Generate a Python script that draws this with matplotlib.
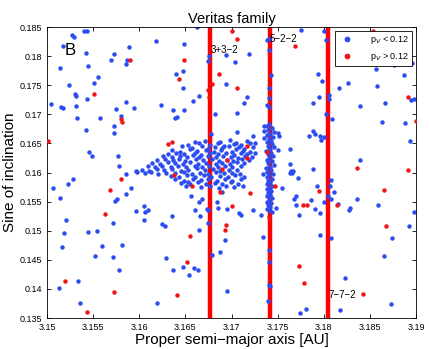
import matplotlib
matplotlib.use('Agg')
import matplotlib.pyplot as plt
import numpy as np

plt.rcParams['font.family'] = ['Liberation Sans', 'DejaVu Sans']

# scattered low-albedo members (a, sin i)
blue_scatter = [
    (3.1504, 0.1717), (3.1506, 0.1574), (3.1514, 0.1780), (3.1515, 0.1713), (3.1517, 0.1710),
    (3.1517, 0.1817), (3.1514, 0.1556), (3.1513, 0.1401), (3.1516, 0.1472), (3.1518, 0.1496),
    (3.1521, 0.1518), (3.1523, 0.1581), (3.1524, 0.1751), (3.1527, 0.1836), (3.1529, 0.1832),
    (3.1530, 0.1735), (3.1531, 0.1732), (3.1531, 0.1715), (3.1528, 0.1589), (3.1533, 0.1693),
    (3.1534, 0.1414), (3.1536, 0.1376), (3.1540, 0.1843), (3.1543, 0.1843), (3.1542, 0.1805),
    (3.1544, 0.1783), (3.1543, 0.1726), (3.1542, 0.1673), (3.1544, 0.1497), (3.1546, 0.1636),
    (3.1549, 0.1628), (3.1551, 0.1753), (3.1555, 0.1764), (3.1554, 0.1500), (3.1552, 0.1456),
    (3.1557, 0.1694), (3.1560, 0.1473), (3.1569, 0.1794), (3.1573, 0.1804), (3.1575, 0.1709),
    (3.1573, 0.1680), (3.1573, 0.1668), (3.1577, 0.1629), (3.1578, 0.1612), (3.1571, 0.1454),
    (3.1572, 0.1513), (3.1574, 0.1551), (3.1576, 0.1554), (3.1580, 0.1697), (3.1581, 0.1476),
    (3.1578, 0.1433), (3.1586, 0.1786), (3.1587, 0.1794), (3.1586, 0.1722), (3.1589, 0.1816),
    (3.1586, 0.1563), (3.1591, 0.1573), (3.1586, 0.1598), (3.1594, 0.1710), (3.1597, 0.1534),
    (3.1597, 0.1602), (3.1605, 0.1542), (3.1606, 0.1532), (3.1610, 0.1535), (3.1605, 0.1519),
    (3.1618, 0.1826), (3.1624, 0.1716), (3.1619, 0.1376), (3.1625, 0.1511), (3.1628, 0.1508),
    (3.1629, 0.1453), (3.1636, 0.1526), (3.1637, 0.1432), (3.1637, 0.1708), (3.1639, 0.1694),
    (3.1641, 0.1696), (3.1640, 0.1770), (3.1647, 0.1774), (3.1647, 0.1745), (3.1648, 0.1820),
    (3.1649, 0.1708), (3.1647, 0.1437), (3.1654, 0.1424), (3.1659, 0.1436), (3.1664, 0.1433),
    (3.1653, 0.1584), (3.1656, 0.1559), (3.1660, 0.1535), (3.1665, 0.1550), (3.1663, 0.1850),
    (3.1665, 0.1502), (3.1666, 0.1525), (3.1658, 0.1723), (3.1665, 0.1731), (3.1668, 0.1554),
    (3.1674, 0.1792), (3.1676, 0.1800), (3.1678, 0.1667), (3.1675, 0.1514), (3.1673, 0.1538),
    (3.1675, 0.1535), (3.1679, 0.1458), (3.1682, 0.1701), (3.1684, 0.1549), (3.1685, 0.1539),
    (3.1688, 0.1463), (3.1690, 0.1566), (3.1693, 0.1484), (3.1694, 0.1752), (3.1694, 0.1802),
    (3.1695, 0.1397), (3.1695, 0.1537), (3.1704, 0.1790), (3.1706, 0.1703), (3.1706, 0.1669),
    (3.1708, 0.1530), (3.1710, 0.1527), (3.1713, 0.1720), (3.1717, 0.1730), (3.1719, 0.1804),
    (3.1723, 0.1662), (3.1723, 0.1535), (3.1732, 0.1527), (3.1734, 0.1489), (3.1735, 0.1680),
    (3.1735, 0.1671), (3.1739, 0.1828), (3.1741, 0.1830), (3.1741, 0.1811), (3.1743, 0.1767),
    (3.1741, 0.1745), (3.1741, 0.1728), (3.1739, 0.1716), (3.1741, 0.1712), (3.1741, 0.1466),
    (3.1741, 0.1446), (3.1741, 0.1407), (3.1742, 0.1405), (3.1740, 0.1380), (3.1750, 0.1639),
    (3.1755, 0.1573), (3.1748, 0.1539), (3.1763, 0.1640), (3.1763, 0.1614), (3.1765, 0.1603),
    (3.1767, 0.1603), (3.1763, 0.1599), (3.1766, 0.1599), (3.1772, 0.1591), (3.1770, 0.1559),
    (3.1768, 0.1554), (3.1770, 0.1544), (3.1773, 0.1527), (3.1775, 0.1845), (3.1774, 0.1358),
    (3.1781, 0.1365), (3.1786, 0.1552), (3.1788, 0.1606), (3.1788, 0.1720), (3.1791, 0.1537),
    (3.1796, 0.1531), (3.1796, 0.1493), (3.1794, 0.1769), (3.1795, 0.1729), (3.1798, 0.1757),
    (3.1800, 0.1844), (3.1802, 0.1827), (3.1802, 0.1701), (3.1788, 0.1672), (3.1790, 0.1666),
    (3.1784, 0.1663), (3.1796, 0.1662), (3.1797, 0.1656), (3.1800, 0.1661), (3.1793, 0.1576),
    (3.1800, 0.1550), (3.1806, 0.1734), (3.1806, 0.1727), (3.1809, 0.1692), (3.1807, 0.1576),
    (3.1808, 0.1587), (3.1805, 0.1559), (3.1808, 0.1555), (3.1808, 0.1487), (3.1811, 0.1566),
    (3.1815, 0.1546), (3.1816, 0.1745), (3.1818, 0.1363), (3.1823, 0.1419), (3.1826, 0.1754),
    (3.1827, 0.1536), (3.1828, 0.1539), (3.1836, 0.1555), (3.1839, 0.1622), (3.1839, 0.1714),
    (3.1857, 0.1777), (3.1858, 0.1749), (3.1859, 0.1545), (3.1863, 0.1686), (3.1865, 0.1456),
    (3.1866, 0.1719), (3.1873, 0.1374), (3.1874, 0.1488), (3.1876, 0.1784), (3.1887, 0.1768),
    (3.1888, 0.1685), (3.1891, 0.1789), (3.1896, 0.1789), (3.1892, 0.1508), (3.1894, 0.1654),
    (3.1895, 0.1725), (3.1898, 0.1726), (3.1898, 0.1532),
]

# dense core of the family
core_pts = [
    (3.1660, 0.1653), (3.1671, 0.1655), (3.1687, 0.1652), (3.1698, 0.1656), (3.1705, 0.1651),
    (3.1717, 0.1654), (3.1725, 0.1650),
    (3.1653, 0.1648), (3.1665, 0.1651), (3.1677, 0.1647), (3.1685, 0.1650), (3.1692, 0.1646),
    (3.1703, 0.1649), (3.1710, 0.1647), (3.1720, 0.1651),
    (3.1646, 0.1645), (3.1657, 0.1642), (3.1668, 0.1646), (3.1674, 0.1641), (3.1682, 0.1644),
    (3.1690, 0.1642), (3.1697, 0.1645), (3.1708, 0.1643), (3.1714, 0.1640), (3.1723, 0.1644),
    (3.1636, 0.1639), (3.1644, 0.1636), (3.1655, 0.1640), (3.1663, 0.1637), (3.1672, 0.1639),
    (3.1681, 0.1635), (3.1689, 0.1638), (3.1700, 0.1636), (3.1705, 0.1640), (3.1712, 0.1637),
    (3.1720, 0.1636),
    (3.1631, 0.1632), (3.1640, 0.1634), (3.1649, 0.1631), (3.1660, 0.1634), (3.1667, 0.1630),
    (3.1677, 0.1633), (3.1685, 0.1631), (3.1694, 0.1634), (3.1703, 0.1630), (3.1710, 0.1633),
    (3.1717, 0.1631), (3.1726, 0.1633),
    (3.1626, 0.1628), (3.1635, 0.1626), (3.1644, 0.1629), (3.1652, 0.1627), (3.1658, 0.1630),
    (3.1665, 0.1626), (3.1674, 0.1628), (3.1683, 0.1626), (3.1691, 0.1629), (3.1699, 0.1627),
    (3.1707, 0.1625), (3.1715, 0.1628), (3.1722, 0.1627),
    (3.1619, 0.1622), (3.1628, 0.1624), (3.1637, 0.1621), (3.1643, 0.1623), (3.1650, 0.1620),
    (3.1661, 0.1623), (3.1669, 0.1621), (3.1679, 0.1624), (3.1686, 0.1620), (3.1695, 0.1622),
    (3.1702, 0.1620), (3.1711, 0.1623), (3.1719, 0.1621),
    (3.1614, 0.1617), (3.1622, 0.1615), (3.1631, 0.1618), (3.1639, 0.1616), (3.1647, 0.1614),
    (3.1655, 0.1618), (3.1664, 0.1615), (3.1672, 0.1617), (3.1683, 0.1614), (3.1690, 0.1617),
    (3.1698, 0.1615), (3.1706, 0.1618), (3.1714, 0.1616),
    (3.1609, 0.1611), (3.1617, 0.1609), (3.1625, 0.1612), (3.1634, 0.1610), (3.1642, 0.1612),
    (3.1651, 0.1609), (3.1660, 0.1611), (3.1668, 0.1609), (3.1676, 0.1612), (3.1685, 0.1610),
    (3.1693, 0.1612), (3.1701, 0.1609), (3.1710, 0.1611),
    (3.1603, 0.1605), (3.1611, 0.1603), (3.1619, 0.1606), (3.1627, 0.1604), (3.1636, 0.1606),
    (3.1645, 0.1603), (3.1653, 0.1605), (3.1663, 0.1607), (3.1671, 0.1604), (3.1680, 0.1606),
    (3.1688, 0.1603), (3.1697, 0.1605), (3.1706, 0.1604),
    (3.1598, 0.1601), (3.1606, 0.1599), (3.1613, 0.1601), (3.1620, 0.1598), (3.1629, 0.1600),
    (3.1639, 0.1599), (3.1648, 0.1601), (3.1657, 0.1598), (3.1666, 0.1600), (3.1675, 0.1598),
    (3.1683, 0.1601), (3.1692, 0.1599), (3.1701, 0.1600), (3.1709, 0.1598),
    (3.1634, 0.1594), (3.1643, 0.1592), (3.1652, 0.1595), (3.1660, 0.1593), (3.1670, 0.1595),
    (3.1678, 0.1592), (3.1687, 0.1594), (3.1696, 0.1592), (3.1704, 0.1595), (3.1713, 0.1593),
    (3.1639, 0.1588), (3.1648, 0.1586), (3.1658, 0.1589), (3.1667, 0.1587), (3.1675, 0.1589),
    (3.1684, 0.1586), (3.1693, 0.1588), (3.1701, 0.1586), (3.1710, 0.1589),
    (3.1645, 0.1582), (3.1655, 0.1581), (3.1664, 0.1583), (3.1672, 0.1580), (3.1682, 0.1582),
    (3.1690, 0.1580), (3.1699, 0.1583), (3.1707, 0.1581),
    (3.1651, 0.1577), (3.1667, 0.1575), (3.1677, 0.1577), (3.1686, 0.1574), (3.1694, 0.1576),
    (3.1703, 0.1575), (3.1712, 0.1577),
]

# members stacked along the 5-2-2 resonance
column_522 = [
    (3.1741, 0.1684), (3.1738, 0.1680), (3.1744, 0.1677), (3.1740, 0.1673), (3.1746, 0.1670),
    (3.1742, 0.1667), (3.1739, 0.1664), (3.1745, 0.1661), (3.1741, 0.1658), (3.1743, 0.1655),
    (3.1738, 0.1652), (3.1744, 0.1649), (3.1740, 0.1646), (3.1746, 0.1643), (3.1742, 0.1640),
    (3.1737, 0.1637), (3.1743, 0.1634), (3.1740, 0.1631), (3.1745, 0.1628), (3.1741, 0.1625),
    (3.1738, 0.1622), (3.1744, 0.1619), (3.1740, 0.1616), (3.1746, 0.1613), (3.1742, 0.1610),
    (3.1737, 0.1607), (3.1743, 0.1604), (3.1739, 0.1601), (3.1745, 0.1598), (3.1741, 0.1595),
    (3.1738, 0.1592), (3.1744, 0.1589), (3.1740, 0.1586), (3.1742, 0.1583), (3.1739, 0.1580),
    (3.1744, 0.1577), (3.1741, 0.1574), (3.1738, 0.1571), (3.1743, 0.1568), (3.1740, 0.1565),
    (3.1742, 0.1562), (3.1739, 0.1559), (3.1744, 0.1556), (3.1741, 0.1553), (3.1738, 0.1550),
    (3.1743, 0.1547), (3.1740, 0.1544), (3.1742, 0.1541), (3.1739, 0.1538), (3.1741, 0.1535),
    (3.1744, 0.1532), (3.1750, 0.1668), (3.1751, 0.1662), (3.1735, 0.1660), (3.1734, 0.1598),
]

# high-albedo interlopers
red_pts = [
    (3.1501, 0.1655), (3.1551, 0.1735), (3.1590, 0.1793), (3.1580, 0.1692), (3.1581, 0.1687),
    (3.1580, 0.1589), (3.1568, 0.1570), (3.1563, 0.1528), (3.1573, 0.1394), (3.1520, 0.1414),
    (3.1543, 0.1360), (3.1631, 0.1649), (3.1636, 0.1653), (3.1649, 0.1793), (3.1643, 0.1760),
    (3.1657, 0.1577), (3.1655, 0.1491), (3.1652, 0.1446), (3.1641, 0.1389), (3.1638, 0.1596),
    (3.1675, 0.1741), (3.1679, 0.1752), (3.1676, 0.1730), (3.1686, 0.1769), (3.1690, 0.1606),
    (3.1687, 0.1566), (3.1700, 0.1844), (3.1706, 0.1829), (3.1706, 0.1746), (3.1700, 0.1542),
    (3.1694, 0.1510), (3.1693, 0.1502), (3.1695, 0.1622), (3.1717, 0.1645), (3.1717, 0.1625),
    (3.1720, 0.1565), (3.1747, 0.1577), (3.1769, 0.1817), (3.1773, 0.1440), (3.1779, 0.1410),
    (3.1777, 0.1544), (3.1782, 0.1544), (3.1795, 0.1569), (3.1814, 0.1545), (3.1843, 0.1391),
    (3.1836, 0.1607), (3.1853, 0.1843), (3.1865, 0.1570), (3.1868, 0.1508), (3.1891, 0.1730),
    (3.1900, 0.1689), (3.1891, 0.1605), (3.1739, 0.1636), (3.1741, 0.1524),
]

res_a = [3.16765, 3.17412, 3.18049]
res_names = ['3+3\u22122', '5\u22122\u22122', '7\u22127\u22122']
res_label_y = [0.1810, 0.1830, 0.1390]

xticks = [3.15, 3.155, 3.16, 3.165, 3.17, 3.175, 3.18, 3.185, 3.19]
yticks = [0.135, 0.14, 0.145, 0.15, 0.155, 0.16, 0.165, 0.17, 0.175, 0.18, 0.185]

blue = '#2B4CF0'
red = '#F01414'

blue_all = np.array(blue_scatter + core_pts + column_522)
red_all = np.array(red_pts)

fig = plt.figure(figsize=(4.29, 3.49), dpi=100)
ax = fig.add_axes([0.1096, 0.0888, 0.8601, 0.8338])

for a in res_a:
    ax.axvline(a, color='red', lw=3.2, zorder=1)

ax.plot(blue_all[:, 0], blue_all[:, 1], 'o', color=blue, ms=3.2, mec='none',
        label='p$_V$ < 0.12', zorder=2)
ax.plot(red_all[:, 0], red_all[:, 1], 'o', color=red, ms=3.2, mec='none',
        label='p$_V$ > 0.12', zorder=3)

for a, name, y in zip(res_a, res_names, res_label_y):
    ax.text(a + 0.00005, y, name, fontsize=7, va='center', ha='left', zorder=4)

ax.text(3.1525, 0.1810, 'B', fontsize=12, va='center', ha='center')

ax.set_xlim(3.15, 3.19)
ax.set_ylim(0.135, 0.185)
ax.set_xticks(xticks)
ax.set_xticklabels([f'{t:g}' for t in xticks])
ax.set_yticks(yticks)
ax.set_yticklabels([f'{t:g}' for t in yticks])
ax.tick_params(direction='in', top=True, right=True, labelsize=6.5, length=3, width=0.6)
for sp in ax.spines.values():
    sp.set_linewidth(0.6)

ax.set_title('Veritas family', fontsize=10.5, pad=3)
ax.set_xlabel('Proper semi\u2212major axis [AU]', fontsize=11, labelpad=1)
ax.set_ylabel('Sine of inclination', fontsize=11, labelpad=2)

leg = ax.legend(loc='upper right', fontsize=6.5, numpoints=1, fancybox=False,
                framealpha=1, borderaxespad=0.4, handletextpad=1.5, markerscale=1.3)
leg.get_frame().set_edgecolor('black')
leg.get_frame().set_linewidth(0.6)

fig.savefig('out.png', dpi=100)
